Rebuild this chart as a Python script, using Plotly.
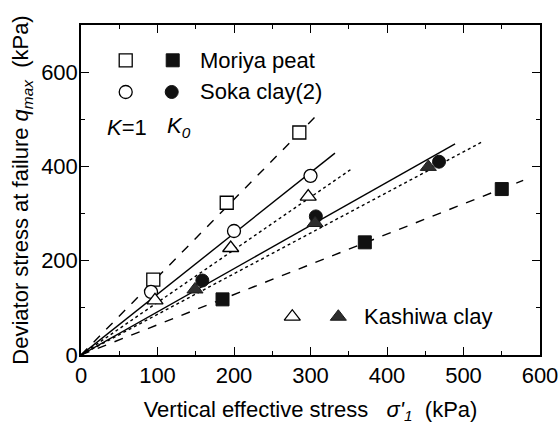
import plotly.graph_objects as go

# ---- measured failure points (sigma'_1, q_max) in kPa ----
moriya_k1_x = [94.5, 190.5, 285.4]
moriya_k1_y = [160, 323, 472]
moriya_k0_x = [185, 371, 550]
moriya_k0_y = [118, 239, 352]

soka_k1_x = [91.5, 200, 300]
soka_k1_y = [134, 263, 380]
soka_k0_x = [158.6, 307, 468]
soka_k0_y = [158, 294, 410]

kashiwa_k1_x = [96.7, 195.7, 297]
kashiwa_k1_y = [116, 227, 336]
kashiwa_k0_x = [149, 306, 454]
kashiwa_k0_y = [139, 280, 399]

# ---- fitted lines through the origin: slope and extent ----
fit_names = ["Moriya K=1", "Soka K=1", "Kashiwa K=1", "Soka K0", "Kashiwa K0", "Moriya K0"]
fit_slopes = [1.65, 1.29, 1.116, 0.916, 0.862, 0.641]
fit_xmax = [306, 332, 354, 489, 524, 578]
fit_dash = ["dash", "solid", "dot", "solid", "dot", "dash"]

FONT = "Liberation Sans, Arial, sans-serif"
FS = 22

fig = go.Figure()

for name, k, xm, d in zip(fit_names, fit_slopes, fit_xmax, fit_dash):
    fig.add_trace(go.Scatter(
        x=[0, xm], y=[0, k * xm], mode="lines",
        line=dict(color="black", width=1.4, dash=d),
        showlegend=False, hoverinfo="skip", name=name))

open_style = dict(color="white", line=dict(color="black", width=1.3))
solid_black = dict(color="#111", line=dict(color="#111", width=1))
solid_grey = dict(color="#2e2e2e", line=dict(color="#1a1a1a", width=1))
series = [
    (moriya_k1_x, moriya_k1_y, "square", 13, open_style),
    (soka_k1_x, soka_k1_y, "circle", 13, open_style),
    (kashiwa_k1_x, kashiwa_k1_y, "triangle-up", 14, open_style),
    (moriya_k0_x, moriya_k0_y, "square", 13, solid_black),
    (soka_k0_x, soka_k0_y, "circle", 13, solid_black),
    (kashiwa_k0_x, kashiwa_k0_y, "triangle-up", 14, solid_grey),
]
for xs, ys, sym, sz, st in series:
    fig.add_trace(go.Scatter(
        x=xs, y=ys, mode="markers",
        marker=dict(symbol=sym, size=sz, **st),
        showlegend=False, cliponaxis=False))

# ---- key markers drawn on an overlay axis in plot-area fractions ----
key_rows = [
    ([0.0974, 0.1998], 0.893, "square", 13, [open_style, solid_black]),
    ([0.0974, 0.1976], 0.797, "circle", 13, [open_style, solid_black]),
    ([0.4603, 0.5606], 0.116, "triangle-up", 14, [open_style, solid_grey]),
]
for xs, y, sym, sz, fills in key_rows:
    for xk, st in zip(xs, fills):
        fig.add_trace(go.Scatter(
            x=[xk], y=[y], mode="markers", xaxis="x2", yaxis="y2",
            marker=dict(symbol=sym, size=sz, **st),
            showlegend=False, hoverinfo="skip"))

key_texts = [
    (0.2549, 0.893, "Moriya peat"),
    (0.2549, 0.797, "Soka clay(2)"),
    (0.6122, 0.116, "Kashiwa clay"),
    (0.0523, 0.69, "<i>K</i>=1"),
    (0.183, 0.69, "<i>K</i><sub><i>0</i></sub>"),
]
for xk, yk, t in key_texts:
    fig.add_annotation(x=xk, y=yk, xref="x2", yref="y2", text=t, showarrow=False,
                       xanchor="left", yanchor="middle",
                       font=dict(family=FONT, size=FS, color="black"))

axis_common = dict(
    showline=True, linecolor="black", linewidth=1.5, mirror="allticks",
    ticks="inside", tickcolor="black", tickwidth=1.2, ticklen=8,
    showgrid=False, zeroline=False,
    tickfont=dict(family=FONT, size=FS, color="black"),
)

fig.update_layout(
    width=559, height=431,
    margin=dict(l=81, r=19, t=25, b=76),
    paper_bgcolor="white", plot_bgcolor="white",
    xaxis=dict(range=[0, 600], dtick=100, tick0=0,
               minor=dict(dtick=50, ticklen=4, ticks="inside", tickcolor="black"),
               title=dict(text="Vertical effective stress\u00a0\u00a0\u00a0<i>σ'</i><sub><i>1</i></sub>\u00a0\u00a0(kPa)",
                          font=dict(family=FONT, size=FS, color="black"), standoff=14),
               automargin=False, **axis_common),
    yaxis=dict(range=[0, 700], dtick=200, tick0=0,
               minor=dict(dtick=100, ticklen=4, ticks="inside", tickcolor="black"),
               ticklabelstandoff=-3,
               title=dict(text="Deviator stress at failure <i>q</i><sub><i>max</i></sub>\u00a0\u00a0(kPa)",
                          font=dict(family=FONT, size=FS, color="black"), standoff=6),
               automargin=False, **axis_common),
    xaxis2=dict(range=[0, 1], overlaying="x", visible=False, fixedrange=True),
    yaxis2=dict(range=[0, 1], overlaying="y", visible=False, fixedrange=True),
    showlegend=False,
)

fig.write_html("out.html")
